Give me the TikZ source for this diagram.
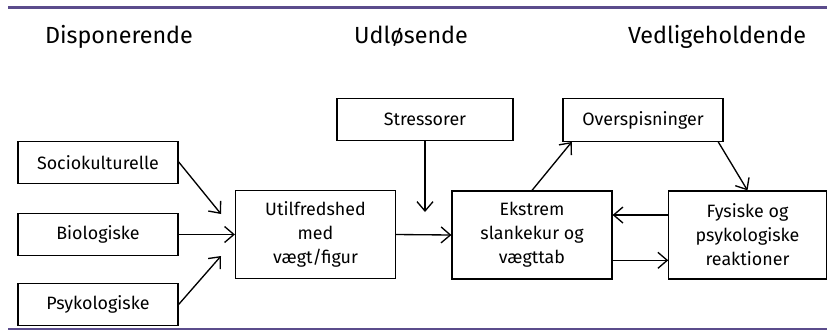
\documentclass[tikz,border=0pt]{standalone}
\usepackage{fontspec}
\setmainfont{Fira Sans}
\usepackage{xcolor}
\usepackage{tikz}
\usetikzlibrary{arrows.meta,positioning}

\definecolor{rulepurple}{HTML}{5B4C8C}

\tikzset{
    box/.style={draw, line width=0.9pt, inner sep=0pt, align=center,
        font=\fontsize{13.4}{18}\selectfont, minimum width=120pt, minimum height=32pt},
    tall/.style={minimum height=66pt},
    head/.style={anchor=base, font=\fontsize{17.5}{21}\selectfont},
    flow/.style={line width=1pt, -{Straight Barb[length=7pt,width=12pt,line width=1pt]}}
}

\begin{document}
\begin{tikzpicture}[x=0.75pt, y=-0.75pt]
    \useasboundingbox (0,0) rectangle (827,330);

    % rules on top and bottom
    \draw[rulepurple, line width=2.3pt] (8,7.5) -- (827,7.5);
    \draw[rulepurple, line width=0.8pt] (8,329) -- (827,329);

    % column heads
    \node[head] (disp) at (119,43) {Disponerende};
    \node[head] (udl) at (411,43) {Udløsende};
    \node[head] (vedl) at (717,43) {Vedligeholdende};

    % disponerende factors
    \node[box] (socio) at (98,162.5) {Sociokulturelle};
    \node[box] (bio) at (98,234.5) {Biologiske};
    \node[box] (psyk) at (98,304.5) {Psykologiske};

    % middle and right
    \node[box, tall] (util) at (315.5,234.5) {Utilfredshed\\med\\vægt/figur};
    \node[box, minimum width=132pt] (stress) at (425,119.5) {Stressorer};
    \node[box, tall] (ekstrem) at (532,235) {Ekstrem\\slankekur og\\vægttab};
    \node[box] (over) at (643,120) {Overspisninger};
    \node[box, tall, minimum width=118pt] (fys) at (747.5,235) {Fysiske og\\psykologiske\\reaktioner};

    % free arrow ends
    \coordinate (socioend) at (221,214);
    \coordinate (psykend) at (221,256);
    \coordinate (stressend) at (425,212);

    % connectors
    \draw[flow] ([yshift=0.5pt]socio.east) -- (socioend);
    \draw[flow] (bio.east) -- (util.west);
    \draw[flow] (psyk.east) -- (psykend);
    \draw[flow] (util.east) -- (ekstrem.west);
    \draw[flow] (stress.south) -- (stressend);
    \draw[flow] (ekstrem.north) -- ([xshift=7pt]over.south west);
    \draw[flow] ([xshift=-4pt]over.south east) -- (fys.north);
    \draw[flow] ([yshift=15pt]fys.west) -- ([yshift=15pt]ekstrem.east);
    \draw[flow] ([yshift=-19pt]ekstrem.east) -- ([yshift=-19pt]fys.west);
\end{tikzpicture}
\end{document}
